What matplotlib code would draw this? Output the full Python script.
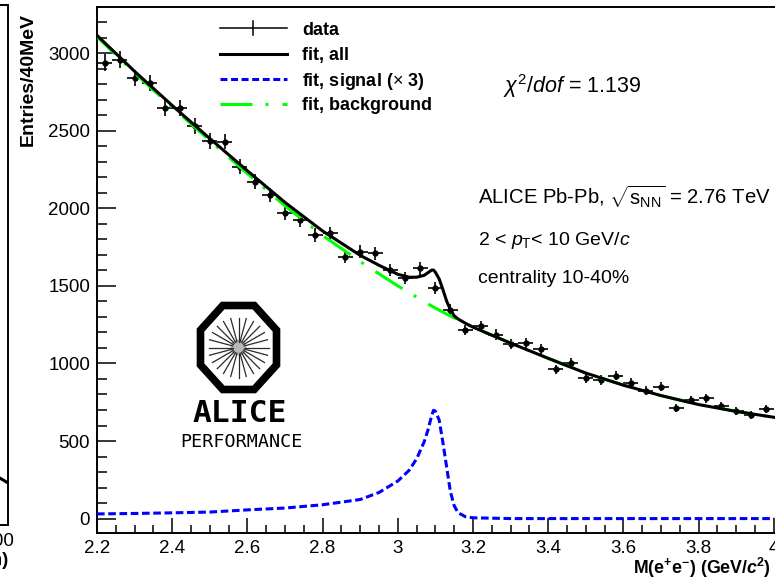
import numpy as np
import matplotlib
matplotlib.use('Agg')
import matplotlib.pyplot as plt
from matplotlib.lines import Line2D
from matplotlib.patches import Polygon, Circle
from matplotlib.ticker import MultipleLocator, FuncFormatter

plt.rcParams['font.family'] = ['Liberation Sans', 'DejaVu Sans']
plt.rcParams['mathtext.fontset'] = 'custom'
plt.rcParams['mathtext.rm'] = 'Liberation Sans'
plt.rcParams['mathtext.it'] = 'Liberation Sans:italic'
plt.rcParams['mathtext.bf'] = 'Liberation Sans:bold'
plt.rcParams['mathtext.bfit'] = 'Liberation Sans:italic:bold'
plt.rcParams['lines.scale_dashes'] = False

# ------------------------------------------------ data (40 MeV bins) ------------------------------------------------
mass = [2.22, 2.26, 2.30, 2.34, 2.38, 2.42, 2.46, 2.50, 2.54, 2.58,
        2.62, 2.66, 2.70, 2.74, 2.78, 2.82, 2.86, 2.90, 2.94, 2.98,
        3.02, 3.06, 3.10, 3.14, 3.18, 3.22, 3.26, 3.30, 3.34, 3.38,
        3.42, 3.46, 3.50, 3.54, 3.58, 3.62, 3.66, 3.70, 3.74, 3.78,
        3.82, 3.86, 3.90, 3.94, 3.98]
entries = [2939, 2957, 2839, 2807, 2645, 2645, 2531, 2435, 2430, 2269,
           2172, 2086, 1970, 1926, 1828, 1839, 1689, 1721, 1711, 1601,
           1549, 1613, 1485, 1347, 1216, 1240, 1186, 1127, 1131, 1092,
           962, 1006, 905, 894, 922, 876, 823, 850, 712, 765,
           776, 726, 696, 668, 705]
bin_half = 0.02

# fit curves
fit_x = [2.2, 2.3, 2.4, 2.5, 2.6, 2.7, 2.8, 2.9, 2.95, 3.0,
         3.03, 3.05, 3.07, 3.08, 3.09, 3.095, 3.1, 3.11, 3.12, 3.13,
         3.14, 3.15, 3.16, 3.18, 3.2, 3.3, 3.4, 3.5, 3.6, 3.7,
         3.8, 3.9, 4.0]
fit_all = [3115, 2883, 2663, 2450, 2242, 2038, 1854, 1697, 1633, 1575,
           1556, 1556, 1568, 1585, 1602, 1602, 1588, 1545, 1476, 1401,
           1347, 1307, 1287, 1259, 1234, 1131, 1033, 938, 860, 793,
           735, 691, 653]
fit_bkg = [3106, 2873, 2652, 2437, 2224, 2016, 1825, 1657, 1578, 1500,
           1457, 1428, 1398, 1384, 1371, 1364, 1357, 1344, 1331, 1318,
           1306, 1294, 1282, 1258, 1233, 1131, 1033, 938, 860, 793,
           735, 691, 653]
fit_sig3 = [30, 33, 37, 42, 56, 68, 89, 123, 168, 242,
            311, 385, 494, 569, 663, 698, 692, 636, 490, 330,
            172, 83, 38, 12, 5, 0, 0, 0, 0, 0,
            0, 0, 0]

# small piece of the neighbouring panel on the left
left_x = [0.967, 1.0]
left_y = [0.090, 0.081]

W, H = 775, 581
def fx(p):
    return p / W
def fy(p):
    return 1 - p / H

# dash-dot of the background line, in pixels (on, off, on, off)
bkg_dash_px = [32, 13, 3, 14]
bkg_dash = [d * 0.72 for d in bkg_dash_px]

fig = plt.figure(figsize=(7.75, 5.81), dpi=100)

# ------------------------------------------------ main frame ------------------------------------------------
ax = fig.add_axes([fx(97), 48 / H, 752 / W, 526 / H])
ax.set_xlim(2.2, 4.2)
ax.set_ylim(-93, 3298)

# phase of the dash pattern so that a long dash starts right after the J/psi gap (~3.08)
pts = ax.transData.transform(np.column_stack([fit_x, fit_bkg]))
seg = np.hypot(np.diff(pts[:, 0]), np.diff(pts[:, 1]))
L = np.concatenate([[0], np.cumsum(seg)])
L_start = np.interp(3.081, fit_x, L)
offset_px = (-L_start) % sum(bkg_dash_px)

ax.errorbar(mass, entries, xerr=bin_half, yerr=np.sqrt(entries), fmt='o', color='black',
            ms=3.5, elinewidth=1.2, capsize=0, zorder=2)
ax.plot(fit_x, fit_bkg, color='#00ff00', lw=2.2, linestyle=(offset_px * 0.72, bkg_dash), zorder=3)
ax.plot(fit_x, fit_all, color='black', lw=2.2, zorder=4)
ax.plot(fit_x, fit_sig3, color='#0000ff', lw=2.2, dashes=(5.5, 2.6), zorder=5)

ax.xaxis.set_major_locator(MultipleLocator(0.2))
ax.xaxis.set_minor_locator(MultipleLocator(0.05))
ax.yaxis.set_major_locator(MultipleLocator(500))
ax.yaxis.set_minor_locator(MultipleLocator(100))
ax.xaxis.set_major_formatter(FuncFormatter(lambda v, p: '%g' % round(v, 2)))
ax.tick_params(which='both', direction='in', width=1.1, labelsize=13.5, pad=5)
ax.tick_params(axis='y', which='major', length=14)
ax.tick_params(axis='y', which='minor', length=7)
ax.tick_params(axis='x', which='major', length=11)
ax.tick_params(axis='x', which='minor', length=5.5)
for s in ax.spines.values():
    s.set_linewidth(1.4)

fig.text(fx(771), fy(568), r'M(e$^{\mathbf{+}}$e$^{\mathbf{-}}$) (GeV/$\mathbfit{c}^{\mathbf{2}}$)',
         ha='right', va='center', fontsize=12.8, fontweight='bold')
fig.text(fx(28), fy(80), 'Entries/40MeV', rotation=90, ha='center', va='center',
         fontsize=14, fontweight='bold')

# ------------------------------------------------ legend ------------------------------------------------
fig.add_artist(Line2D([fx(220), fx(287)], [fy(28), fy(28)], color='black', lw=1.1))
fig.add_artist(Line2D([fx(253), fx(253)], [fy(21), fy(35)], color='black', lw=1.1))
fig.add_artist(Line2D([fx(220), fx(287)], [fy(54), fy(54)], color='black', lw=2.2))
fig.add_artist(Line2D([fx(220), fx(287)], [fy(79), fy(79)], color='#0000ff', lw=2.2, dashes=(5, 2.6)))
fig.add_artist(Line2D([fx(220), fx(287)], [fy(104), fy(104)], color='#00ff00', lw=2.2,
                      dashes=bkg_dash))
labels = ['data', 'fit, all', r'fit, signal ($\times$ 3)', 'fit, background']
baselines = [35, 60, 86, 110]
for lab, b in zip(labels, baselines):
    fig.text(fx(302), fy(b), lab, ha='left', va='baseline', fontsize=13, fontweight='bold')

# ------------------------------------------------ info text ------------------------------------------------
fig.text(fx(503), fy(93), r'$\chi^{\mathrm{2}}\mathrm{/}dof$ = 1.139', va='baseline', fontsize=15.5)
fig.text(fx(478), fy(204), r'ALICE Pb-Pb, $\sqrt{\mathrm{s}_{\mathrm{NN}}}$ = 2.76 TeV', va='baseline', fontsize=14.6)
fig.text(fx(478), fy(245), r'2 < $p_{\mathrm{T}}$< 10 GeV/$c$', va='baseline', fontsize=14)
fig.text(fx(478), fy(283), 'centrality 10-40%', va='baseline', fontsize=14)

# ------------------------------------------------ ALICE logo ------------------------------------------------
lg = fig.add_axes([fx(188), fy(398), 104 / W, 101 / H])
lg.set_xlim(188, 292)
lg.set_ylim(398, 297)
lg.axis('off')
cx, cy, a, b = 238.5, 347.5, 38, 42
ang = np.deg2rad(22.5 + 45 * np.arange(8))
c22 = np.cos(np.deg2rad(22.5))
octo = np.column_stack([cx + a * np.cos(ang) / c22, cy + b * np.sin(ang) / c22])
lg.add_patch(Polygon(octo, closed=True, fill=False, edgecolor='black', lw=5.5, joinstyle='miter'))
lg.add_patch(Circle((cx, cy), 8, color='#b8b8b8', lw=0))
for t in np.deg2rad(np.arange(0, 360, 15)):
    lg.plot([cx + 6 * np.cos(t), cx + 30 * np.cos(t)], [cy + 6 * np.sin(t), cy + 30 * np.sin(t)],
            color='#2a2a2a', lw=0.9)
fig.text(fx(240), fy(422), 'ALICE', ha='center', va='baseline', family='DejaVu Sans Mono',
         fontweight='bold', fontsize=22.5)
fig.text(fx(241), fy(447), 'PERFORMANCE', ha='center', va='baseline', family='DejaVu Sans Mono',
         fontsize=13.2)

# ------------------------------------------------ edge of left panel ------------------------------------------------
axl = fig.add_axes([fx(-232), 56 / H, 240 / W, 520 / H])
axl.set_xlim(0, 1)
axl.set_ylim(0, 1)
axl.set_xticks([])
axl.set_yticks([])
for s in axl.spines.values():
    s.set_linewidth(1.4)
axl.plot(left_x, left_y, color='black', lw=2.2)
fig.text(fx(14), fy(546), '1000', ha='right', va='baseline', fontsize=13.5)
fig.text(fx(8), fy(565), '(cm)', ha='right', va='baseline', fontsize=13.5, fontweight='bold')

fig.savefig('out.png', dpi=100)
